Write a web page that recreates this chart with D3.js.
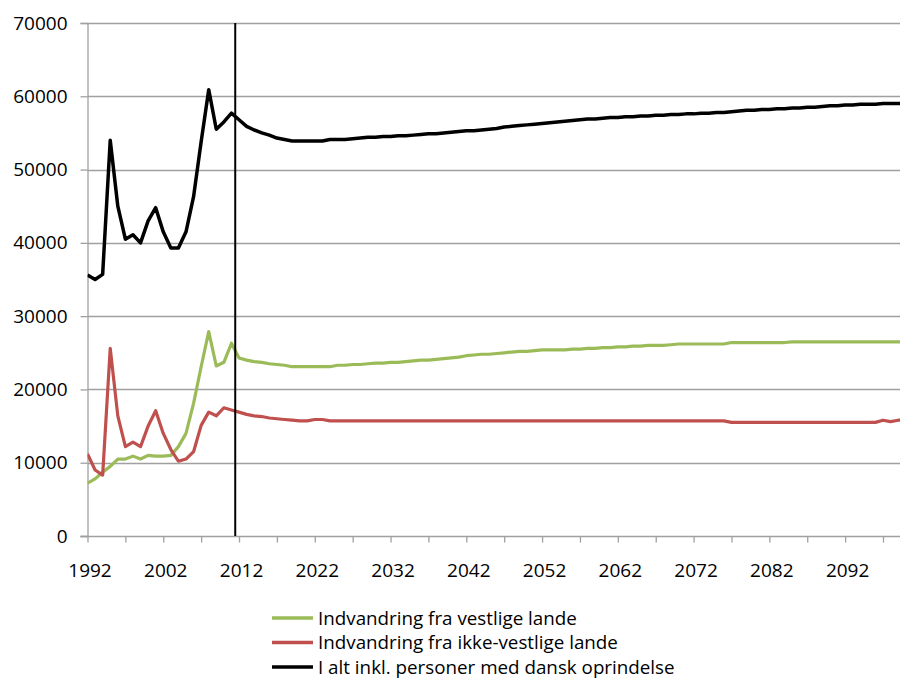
<!DOCTYPE html>
<html>
<head>
<meta charset="utf-8">
<script src="https://cdn.jsdelivr.net/npm/d3@7"></script>
<style>
  html, body { margin: 0; padding: 0; background: #fff; }
  svg { display: block; }
  text { font-family: "Open Sans", "Liberation Sans", sans-serif; fill: #000; }
</style>
</head>
<body>
<svg id="chart" width="900" height="679"></svg>
<script>
// ---- Data ----
const startYear = 1992;
const endYear = 2100;
const projectionStart = 2011.5;

const seriesNames = [
  "Indvandring fra vestlige lande",
  "Indvandring fra ikke-vestlige lande",
  "I alt inkl. personer med dansk oprindelse"
];
const seriesColors = ["#9BBB59", "#C0504D", "#000000"];

const vestlige = [
  7200, 7800, 8700, 9500, 10500, 10500, 10900, 10500, 11000, 10900,
  10900, 11000, 12200, 14000, 18100, 23100, 27900, 23200, 23700, 26300,
  24300, 24000, 23800, 23700, 23500, 23400, 23300, 23100, 23100, 23100,
  23100, 23100, 23100, 23300, 23300, 23400, 23400, 23500, 23600, 23600,
  23700, 23700, 23800, 23900, 24000, 24000, 24100, 24200, 24300, 24400,
  24600, 24700, 24800, 24800, 24900, 25000, 25100, 25200, 25200, 25300,
  25400, 25400, 25400, 25400, 25500, 25500, 25600, 25600, 25700, 25700,
  25800, 25800, 25900, 25900, 26000, 26000, 26000, 26100, 26200, 26200,
  26200, 26200, 26200, 26200, 26200, 26400, 26400, 26400, 26400, 26400,
  26400, 26400, 26400, 26500, 26500, 26500, 26500, 26500, 26500, 26500,
  26500, 26500, 26500, 26500, 26500, 26500, 26500, 26500, 26500
];

const ikkeVestlige = [
  11200, 9000, 8300, 25600, 16400, 12200, 12800, 12200, 15000, 17100,
  14000, 11800, 10200, 10500, 11500, 15100, 16900, 16400, 17500, 17200,
  16900, 16600, 16400, 16300, 16100, 16000, 15900, 15800, 15700, 15700,
  15900, 15900, 15700, 15700, 15700, 15700, 15700, 15700, 15700, 15700,
  15700, 15700, 15700, 15700, 15700, 15700, 15700, 15700, 15700, 15700,
  15700, 15700, 15700, 15700, 15700, 15700, 15700, 15700, 15700, 15700,
  15700, 15700, 15700, 15700, 15700, 15700, 15700, 15700, 15700, 15700,
  15700, 15700, 15700, 15700, 15700, 15700, 15700, 15700, 15700, 15700,
  15700, 15700, 15700, 15700, 15700, 15500, 15500, 15500, 15500, 15500,
  15500, 15500, 15500, 15500, 15500, 15500, 15500, 15500, 15500, 15500,
  15500, 15500, 15500, 15500, 15500, 15800, 15600, 15800, 15800
];

const iAlt = [
  35600, 35000, 35700, 54000, 45000, 40500, 41100, 40000, 43000, 44800,
  41500, 39300, 39300, 41500, 46300, 53800, 60900, 55500, 56500, 57700,
  56800, 55900, 55400, 55000, 54700, 54300, 54100, 53900, 53900, 53900,
  53900, 53900, 54100, 54100, 54100, 54200, 54300, 54400, 54400, 54500,
  54500, 54600, 54600, 54700, 54800, 54900, 54900, 55000, 55100, 55200,
  55300, 55300, 55400, 55500, 55600, 55800, 55900, 56000, 56100, 56200,
  56300, 56400, 56500, 56600, 56700, 56800, 56900, 56900, 57000, 57100,
  57100, 57200, 57200, 57300, 57300, 57400, 57400, 57500, 57500, 57600,
  57600, 57700, 57700, 57800, 57800, 57900, 58000, 58100, 58100, 58200,
  58200, 58300, 58300, 58400, 58400, 58500, 58500, 58600, 58700, 58700,
  58800, 58800, 58900, 58900, 58900, 59000, 59000, 59000, 59100
];

const yTicks = [0, 10000, 20000, 30000, 40000, 50000, 60000, 70000];
const xTickYears = d3.range(1992, 2098, 5);
const xLabelYears = [1992, 2002, 2012, 2022, 2032, 2042, 2052, 2062, 2072, 2082, 2092];

const years = d3.range(startYear, endYear + 1);
const allSeries = [vestlige, ikkeVestlige, iAlt];

// ---- Layout ----
const svg = d3.select("#chart");
const plotLeft = 87.5, plotRight = 900, plotTop = 23, plotBottom = 536;

const x = d3.scaleLinear().domain([1992, 2097]).range([87.5, 883]);
const y = d3.scaleLinear().domain([0, 70000]).range([plotBottom, plotTop]);

const gridColor = "#a0a0a0";
const fontSize = "19px";

svg.append("defs").append("clipPath").attr("id", "clip")
  .append("rect").attr("x", plotLeft).attr("y", 0)
  .attr("width", plotRight - plotLeft).attr("height", plotBottom + 5);

// gridlines
svg.append("g").selectAll("line").data(yTicks.filter(d => d > 0)).join("line")
  .attr("x1", plotLeft).attr("x2", plotRight)
  .attr("y1", d => Math.round(y(d)) + 0.5).attr("y2", d => Math.round(y(d)) + 0.5)
  .attr("stroke", gridColor).attr("stroke-width", 1.3);

// y axis
const yAxis = svg.append("g").attr("transform", `translate(${plotLeft},0)`)
  .call(d3.axisLeft(y).tickValues(yTicks).tickSize(7).tickPadding(13).tickFormat(d3.format("d")));
yAxis.select(".domain").attr("stroke", gridColor).attr("stroke-width", 1.3);
yAxis.selectAll(".tick line").attr("stroke", gridColor).attr("stroke-width", 1.3);
yAxis.selectAll(".tick text").style("font-size", fontSize).style("font-family", "'Open Sans', sans-serif").attr("fill", "#000");

// x axis
const xAxis = svg.append("g").attr("transform", `translate(0,${plotBottom + 0.5})`)
  .call(d3.axisBottom(x).tickValues(xTickYears).tickSize(6).tickSizeOuter(0)
    .tickFormat(d => xLabelYears.includes(d) ? String(d) : ""));
xAxis.select(".domain").attr("stroke", gridColor).attr("stroke-width", 1.3)
  .attr("d", `M${plotLeft - 7},0H${plotRight}`);
xAxis.selectAll(".tick line").attr("stroke", gridColor).attr("stroke-width", 1.3);
xAxis.selectAll(".tick text").style("font-size", fontSize).style("font-family", "'Open Sans', sans-serif")
  .attr("fill", "#000").attr("dx", 2).attr("y", 27);

// series lines
const line = d3.line().x((d, i) => x(years[i])).y(d => y(d));
const lg = svg.append("g").attr("clip-path", "url(#clip)");
allSeries.forEach((s, k) => {
  lg.append("path").datum(s)
    .attr("fill", "none")
    .attr("stroke", seriesColors[k])
    .attr("stroke-width", k === 2 ? 3.5 : 3.2)
    .attr("stroke-linejoin", "round")
    .attr("d", line);
});

// projection marker
svg.append("line")
  .attr("x1", x(projectionStart)).attr("x2", x(projectionStart))
  .attr("y1", plotTop).attr("y2", plotBottom)
  .attr("stroke", "#000").attr("stroke-width", 2);

// legend
const legend = svg.append("g");
seriesNames.forEach((name, k) => {
  const cy = 618 + k * 24.5;
  legend.append("line").attr("x1", 272).attr("x2", 313).attr("y1", cy).attr("y2", cy)
    .attr("stroke", seriesColors[k]).attr("stroke-width", 3.5);
  legend.append("text").attr("x", 318).attr("y", cy).attr("dy", "0.35em")
    .style("font-size", "18.8px").text(name);
});
</script>
</body>
</html>
